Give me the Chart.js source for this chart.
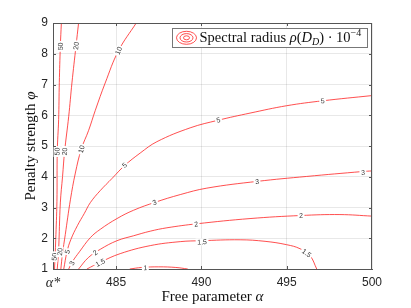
<!DOCTYPE html>
<html><head><meta charset="utf-8">
<script src="https://cdn.jsdelivr.net/npm/chart.js@4.4.1/dist/chart.umd.min.js"></script>
<style>html,body{margin:0;padding:0;background:#fff;}canvas{display:block;}</style>
</head><body>
<canvas id="c" width="411" height="308"></canvas>
<script>
// ---- axis data ----
const alphaStar = 481.3;
const alphaMax = 500;
const xTickValues = [481.3, 485, 490, 495, 500];
const xTickLabels = ['\u03B1*', '485', '490', '495', '500'];
const yTickValues = [1, 2, 3, 4, 5, 6, 7, 8, 9];

// ---- contour lines (level, alpha, phi) ----
const contourLevels = ['50', '20', '10', '5', '3', '2', '1.5', '1'];
const alpha50 = [481.39, 481.46, 481.53, 481.55, 481.63, 481.67, 481.73, 481.79];
const phi50   = [1.0, 1.95, 3.2, 4.82, 5.86, 7.06, 8.24, 9.0];
const alpha20 = [481.55, 481.63, 481.73, 481.86, 481.98, 482.22, 482.41, 482.65, 482.80];
const phi20   = [1.0, 1.63, 3.15, 4.01, 4.82, 5.96, 7.05, 8.26, 9.0];
const alpha10 = [481.76, 481.85, 482.02, 482.32, 482.61, 482.96, 483.39, 483.78, 484.36, 485.14, 486.18];
const phi10   = [1.0, 1.47, 2.12, 3.25, 4.12, 4.90, 5.51, 6.16, 7.05, 8.10, 9.0];
const alpha5  = [481.93, 482.12, 482.34, 482.73, 483.14, 483.49, 484.07, 484.77, 485.49, 486.41, 487.39, 489.34, 491.0, 492.85, 495.0, 497.11, 500];
const phi5    = [1.0, 1.56, 1.95, 2.41, 2.81, 3.16, 3.55, 3.95, 4.36, 4.77, 5.14, 5.59, 5.84, 6.07, 6.31, 6.47, 6.64];
const alpha3  = [482.22, 482.44, 482.85, 483.49, 484.07, 485.05, 486.02, 487.29, 488.76, 490.32, 493.28, 496.17, 499.45, 500];
const phi3    = [1.0, 1.24, 1.56, 2.02, 2.29, 2.64, 2.91, 3.17, 3.42, 3.63, 3.85, 4.01, 4.17, 4.19];
const alpha2  = [482.80, 483.37, 484.07, 485.05, 486.02, 487.0, 487.98, 489.73, 492.85, 495.84, 498.12, 500.0];
const phi2    = [1.0, 1.37, 1.64, 1.92, 2.08, 2.23, 2.34, 2.47, 2.64, 2.74, 2.77, 2.72];
const alpha15 = [483.29, 484.07, 485.24, 487.0, 488.76, 490.0, 492.27, 493.73, 495.0, 495.78, 496.37, 496.76];
const phi15   = [1.0, 1.22, 1.50, 1.76, 1.89, 1.92, 1.95, 1.90, 1.79, 1.66, 1.43, 1.0];
const alpha1  = [485.8, 486.5, 487.5, 488.5, 489.2];
const phi1    = [1.0, 1.05, 1.07, 1.05, 1.0];

// ---- contour labels ----
const labelTexts = ['50', '20', '10', '50', '20', '10', '5', '5', '5', '3', '3', '3', '2', '2', '1.5', '1.5', '1', '50', '20', '5', '3', '2', '1.5'];
const labelAlpha = [481.73, 482.65, 485.14, 481.54, 481.98, 482.96, 485.49, 491.0, 497.11, 487.25, 493.26, 499.47, 489.69, 495.84, 490.04, 496.17, 486.71, 481.37, 481.70, 482.14, 482.41, 483.78, 484.07];
const labelPhi   = [8.24, 8.26, 8.10, 4.82, 4.82, 4.90, 4.38, 5.85, 6.47, 3.17, 3.84, 4.14, 2.46, 2.74, 1.88, 1.52, 1.04, 1.40, 1.56, 1.56, 1.19, 1.53, 1.21];

const contours = [[alpha50, phi50], [alpha20, phi20], [alpha10, phi10], [alpha5, phi5], [alpha3, phi3], [alpha2, phi2], [alpha15, phi15], [alpha1, phi1]];

const SERIF = '"Liberation Serif", "Times New Roman", serif';
const SANS = '"Liberation Sans", Arial, Helvetica, sans-serif';
const LINE = 'rgba(255,30,30,0.78)';

function drawRich(ctx, parts, x, y, align) {
  let w = 0;
  parts.forEach(p => { ctx.font = p.f; w += ctx.measureText(p.t).width; });
  let cx = align === 'center' ? x - w / 2 : x;
  parts.forEach(p => { ctx.font = p.f; ctx.fillText(p.t, cx, y + (p.dy || 0)); cx += ctx.measureText(p.t).width; });
  return w;
}

const contourLabelPlugin = {
  id: 'contourLabels',
  afterDatasetsDraw(chart) {
    const ctx = chart.ctx, xs = chart.scales.x, ys = chart.scales.y;
    ctx.save();
    ctx.font = '7px ' + SANS;
    ctx.textAlign = 'center';
    ctx.textBaseline = 'middle';
    labelTexts.forEach((t, i) => {
      const di = contourLevels.indexOf(t);
      const pts = chart.getDatasetMeta(di).data;
      const px = xs.getPixelForValue(labelAlpha[i]);
      const py = ys.getPixelForValue(labelPhi[i]);
      let best = Infinity, ang = 0;
      for (let k = 0; k < pts.length - 1; k++) {
        const a = pts[k], b = pts[k + 1];
        const dx = b.x - a.x, dy = b.y - a.y, L2 = dx * dx + dy * dy || 1;
        let u = ((px - a.x) * dx + (py - a.y) * dy) / L2;
        u = Math.max(0, Math.min(1, u));
        const qx = a.x + u * dx, qy = a.y + u * dy;
        const d = (qx - px) ** 2 + (qy - py) ** 2;
        if (d < best) { best = d; ang = Math.atan2(dy, dx); }
      }
      if (ang > Math.PI / 2) ang -= Math.PI;
      if (ang < -Math.PI / 2) ang += Math.PI;
      const w = ctx.measureText(t).width;
      ctx.save();
      ctx.translate(px, py);
      ctx.rotate(ang);
      ctx.fillStyle = '#fff';
      ctx.fillRect(-w / 2 - 1.5, -3.5, w + 3, 7);
      ctx.fillStyle = '#333';
      ctx.fillText(t, 0, 0.5);
      ctx.restore();
    });
    ctx.restore();
  }
};

const framePlugin = {
  id: 'frame',
  afterDraw(chart) {
    const ctx = chart.ctx, a = chart.chartArea, xs = chart.scales.x, ys = chart.scales.y;
    ctx.save();
    ctx.strokeStyle = '#555';
    ctx.lineWidth = 1;
    ctx.beginPath();
    ctx.moveTo(a.left, a.top + 0.5); ctx.lineTo(a.right, a.top + 0.5);
    ctx.moveTo(a.right - 0.5, a.top); ctx.lineTo(a.right - 0.5, a.bottom);
    xTickValues.slice(1, -1).forEach(v => {
      const x = Math.round(xs.getPixelForValue(v)) + 0.5;
      ctx.moveTo(x, a.bottom); ctx.lineTo(x, a.bottom - 3);
      ctx.moveTo(x, a.top); ctx.lineTo(x, a.top + 3);
    });
    yTickValues.slice(1, -1).forEach(v => {
      const y = Math.round(ys.getPixelForValue(v)) + 0.5;
      ctx.moveTo(a.left, y); ctx.lineTo(a.left + 3, y);
      ctx.moveTo(a.right, y); ctx.lineTo(a.right - 3, y);
    });
    ctx.stroke();

    // axis titles
    ctx.fillStyle = '#111';
    ctx.textBaseline = 'alphabetic';
    drawRich(ctx, [{t: 'Free parameter ', f: '15px ' + SERIF}, {t: '\u03B1', f: 'italic 15px ' + SERIF}], (a.left + a.right) / 2, 301, 'center');
    ctx.save();
    ctx.translate(34.5, (a.top + a.bottom) / 2);
    ctx.rotate(-Math.PI / 2);
    drawRich(ctx, [{t: 'Penalty strength ', f: '15px ' + SERIF}, {t: '\u03C6', f: 'italic 15px ' + SERIF}], 0, 0, 'center');
    ctx.restore();

    // legend
    const lx = 172, ly = 28, lw = 195, lh = 19;
    ctx.fillStyle = '#fff';
    ctx.fillRect(lx, ly, lw, lh);
    ctx.strokeStyle = '#777';
    ctx.strokeRect(lx + 0.5, ly + 0.5, lw, lh);
    ctx.strokeStyle = LINE;
    [[10, 6.5], [6.5, 4.2], [3, 2]].forEach(r => {
      ctx.beginPath();
      ctx.ellipse(186.5, 37.8, r[0], r[1], 0, 0, Math.PI * 2);
      ctx.stroke();
    });
    ctx.fillStyle = '#111';
    drawRich(ctx, [
      {t: 'Spectral radius ', f: '14.5px ' + SERIF},
      {t: '\u03C1', f: 'italic 14.5px ' + SERIF},
      {t: '(', f: '14.5px ' + SERIF},
      {t: 'D', f: 'italic 14.5px ' + SERIF},
      {t: 'D', f: 'italic 10px ' + SERIF, dy: 3},
      {t: ') \u00B7 10', f: '14.5px ' + SERIF},
      {t: '\u22124', f: '10px ' + SERIF, dy: -6}
    ], 199.5, 42, 'left');
    ctx.restore();
  }
};

new Chart(document.getElementById('c'), {
  type: 'scatter',
  data: {
    datasets: contours.map((c, i) => ({
      label: contourLevels[i],
      data: c[0].map((a, k) => ({x: a, y: c[1][k]})),
      showLine: true,
      pointRadius: 0,
      borderColor: LINE,
      borderWidth: 1,
      tension: 0.4,
      fill: false
    }))
  },
  options: {
    responsive: false,
    animation: false,
    devicePixelRatio: 1,
    layout: {padding: {top: 23, right: 39, left: 0, bottom: 0}},
    plugins: {legend: {display: false}, tooltip: {enabled: false}},
    scales: {
      x: {
        type: 'linear', min: alphaStar, max: alphaMax,
        afterBuildTicks: s => { s.ticks = xTickValues.map(v => ({value: v})); },
        afterFit: s => { s.height = 39; },
        ticks: {
          autoSkip: false, maxRotation: 0, padding: 6, color: '#262626',
          callback: (v, i) => xTickLabels[i],
          font: c => c.index === 0 ? {family: SERIF, size: 14, style: 'italic'} : {family: SANS, size: 12}
        },
        grid: {color: 'rgba(0,0,0,0.09)', drawTicks: false},
        border: {color: '#555'}
      },
      y: {
        type: 'linear', min: 1, max: 9,
        afterBuildTicks: s => { s.ticks = yTickValues.map(v => ({value: v})); },
        afterFit: s => { s.width = 53; },
        ticks: {padding: 5, color: '#262626', font: {family: SANS, size: 12}},
        grid: {color: 'rgba(0,0,0,0.09)', drawTicks: false},
        border: {color: '#555'}
      }
    }
  },
  plugins: [contourLabelPlugin, framePlugin]
});
</script>
</body></html>
